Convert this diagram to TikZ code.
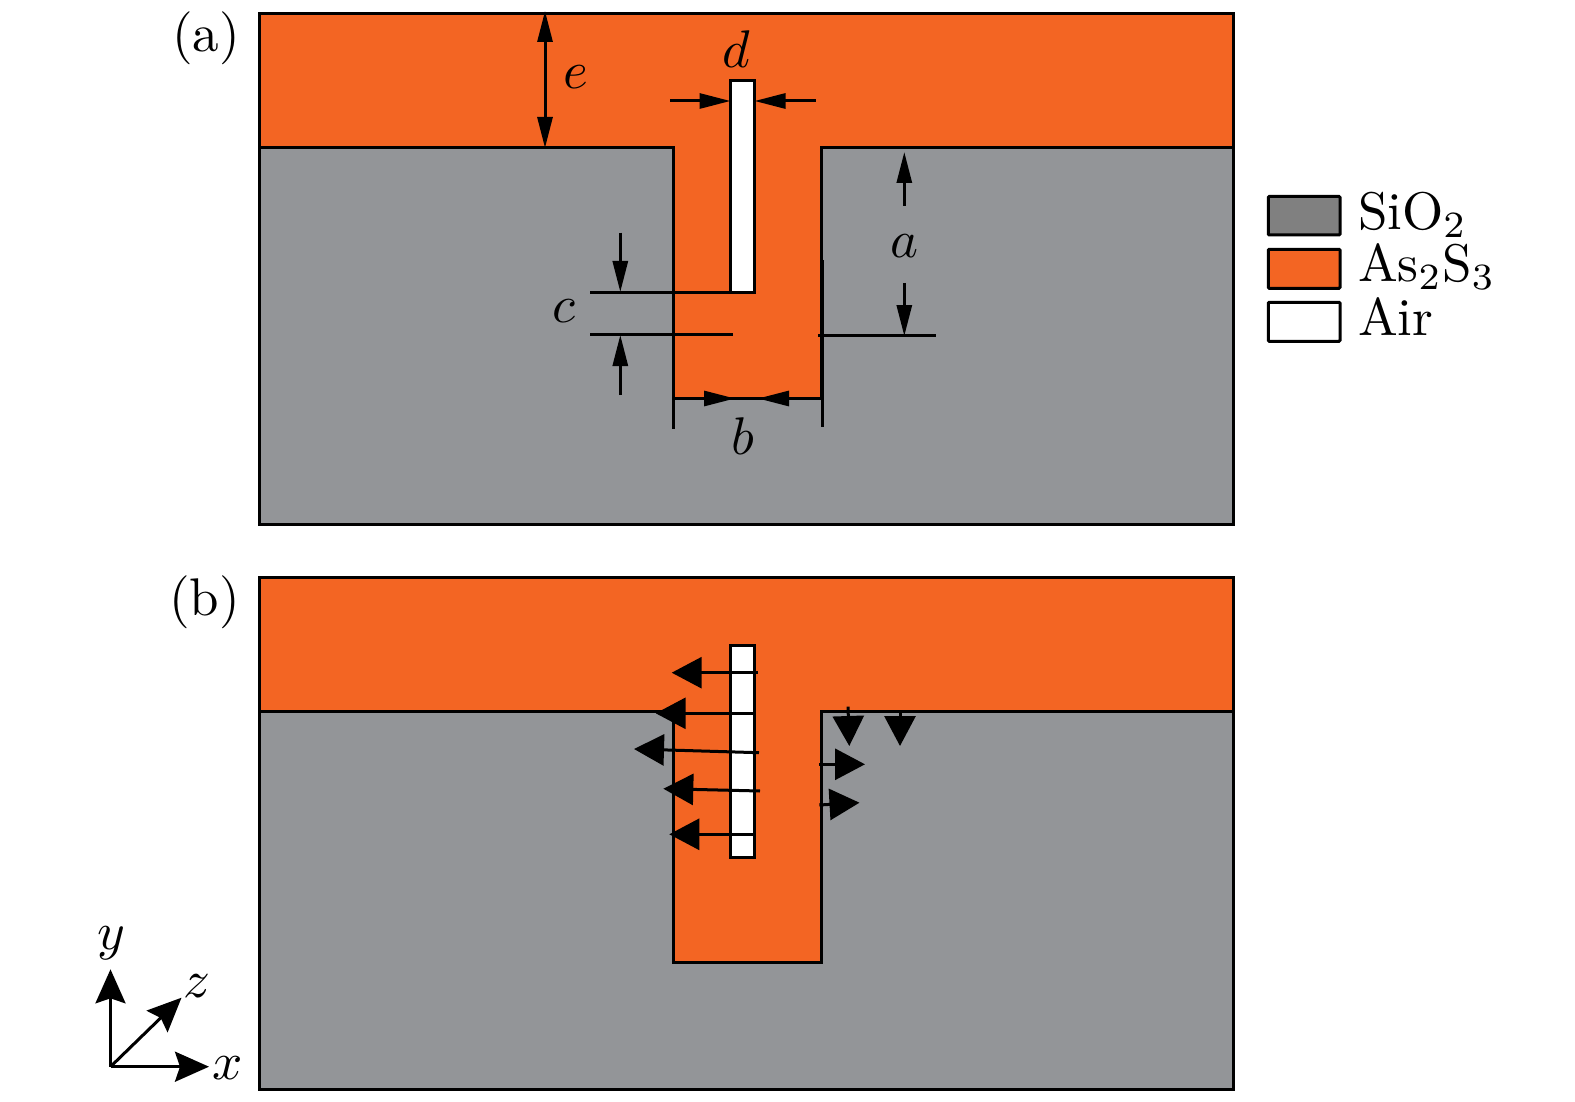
\documentclass[tikz,border=0pt]{standalone}
\usetikzlibrary{arrows.meta}
\definecolor{sio}{HTML}{939598}
\definecolor{legsio}{HTML}{808080}
\definecolor{asS}{HTML}{F36523}
\tikzset{
  x=1pt,y=-1pt,
  ln/.style={line width=3pt,black},
  dimarrow/.style={ln,-{Triangle[length=31pt,width=15pt]}},
  dimboth/.style={ln,{Triangle[length=31pt,width=15pt]}-{Triangle[length=31pt,width=15pt]}},
  field/.style={ln,-{Triangle[length=30pt,width=31pt]}},
  axisarrow/.style={ln,-{Stealth[length=34pt,width=30pt,inset=5pt]}},
  lab/.style={inner sep=0pt,outer sep=0pt,scale=5.3},
  legtext/.style={lab,anchor=base west},
  legbox/.style={ln,rounded corners=1pt}
}
\begin{document}
\begin{tikzpicture}
\useasboundingbox (0,0) rectangle (1575,1102);
% panel (a)
\fill[sio] (259.4,13.5) rectangle (1233,524.5);
\filldraw[ln,fill=asS] (259.4,13.5) -- (1233,13.5) -- (1233,147.5) -- (821.7,147.5) -- (821.7,398.5) -- (673.3,398.5) -- (673.3,147.5) -- (259.4,147.5) -- cycle;
\draw[ln] (259.4,13.5) rectangle (1233,524.5);
\filldraw[ln,fill=white] (730.7,80.3) rectangle (754.3,292.3);
% panel (b)
\fill[sio] (259.4,577.5) rectangle (1233,1089);
\filldraw[ln,fill=asS] (259.4,577.5) -- (1233,577.5) -- (1233,711.5) -- (821.7,711.5) -- (821.7,962.3) -- (673.3,962.3) -- (673.3,711.5) -- (259.4,711.5) -- cycle;
\draw[ln] (259.4,577.5) rectangle (1233,1089);
\filldraw[ln,fill=white] (730.7,645) rectangle (754.3,857.7);
% extension lines
\draw[ln] (673.8,262) -- (673.8,429);
\draw[ln] (822.5,260) -- (822.5,426.7);
\draw[ln] (590,292.3) -- (730.7,292.3);
\draw[ln] (590,334.3) -- (733,334.3);
\draw[ln] (818,335.3) -- (935.7,335.3);
% dimensions
\draw[dimboth] (545,11) -- (545,148);
\draw[dimarrow] (670,101) -- (730.5,101);
\draw[dimarrow] (815.7,101) -- (754.5,101);
\draw[dimarrow] (904.3,206) -- (904.3,152);
\draw[dimarrow] (904.3,283) -- (904.3,336);
\draw[dimarrow] (620.3,232.7) -- (620.3,292);
\draw[dimarrow] (620.3,395) -- (620.3,335);
\draw[dimarrow] (673.3,398.5) -- (735,398.5);
\draw[dimarrow] (822,398.5) -- (758,398.5);
% field arrows
\draw[field] (757.7,672.7) -- (671.7,672.7);
\draw[field] (754,713.3) -- (655.7,713.3);
\draw[field] (759,752.7) -- (634,749);
\draw[field] (760,791) -- (663.3,788.7);
\draw[field] (754,834.3) -- (669.3,834.3);
\draw[field] (848,706.7) -- (849.3,746);
\draw[field] (900,711) -- (900,746);
\draw[field] (819.3,764.3) -- (865,764.3);
\draw[field] (819.3,805) -- (859.5,802.7);
% axes
\coordinate (o) at (110.5,1066.7);
\coordinate (xt) at (209,1066.7);
\coordinate (yt) at (110.5,969.3);
\coordinate (zt) at (181.5,997.7);
\draw[axisarrow] (o) -- (xt);
\draw[axisarrow] (o) -- (yt);
\draw[axisarrow] (o) -- (zt);
% labels
\node[lab] (pa) at (206,38.5) {(a)};
\node[lab] (pb) at (204.5,602) {(b)};
\node[lab] (le) at (575.5,77.5) {$e$};
\node[lab] (ld) at (736,49) {$d$};
\node[lab] (la) at (904,246) {$a$};
\node[lab] (lb) at (742.7,436) {$b$};
\node[lab] (lc) at (564,310.7) {$c$};
\node[lab] (lx) at (228,1068) {$x$};
\node[lab] (ly) at (111.5,943) {$y$};
\node[lab] (lz) at (197,986) {$z$};
% legend
\filldraw[legbox,fill=legsio] (1268.3,196.5) rectangle (1340,235);
\filldraw[legbox,fill=asS] (1268.3,249.3) rectangle (1340,288.3);
\filldraw[legbox,fill=white] (1268.3,302.3) rectangle (1340,341.3);
\node[legtext] (t1) at (1358,229.5) {SiO$_2$};
\node[legtext] (t2) at (1358,282) {As$_2$S$_3$};
\node[legtext] (t3) at (1358,335) {Air};
\end{tikzpicture}
\end{document}
